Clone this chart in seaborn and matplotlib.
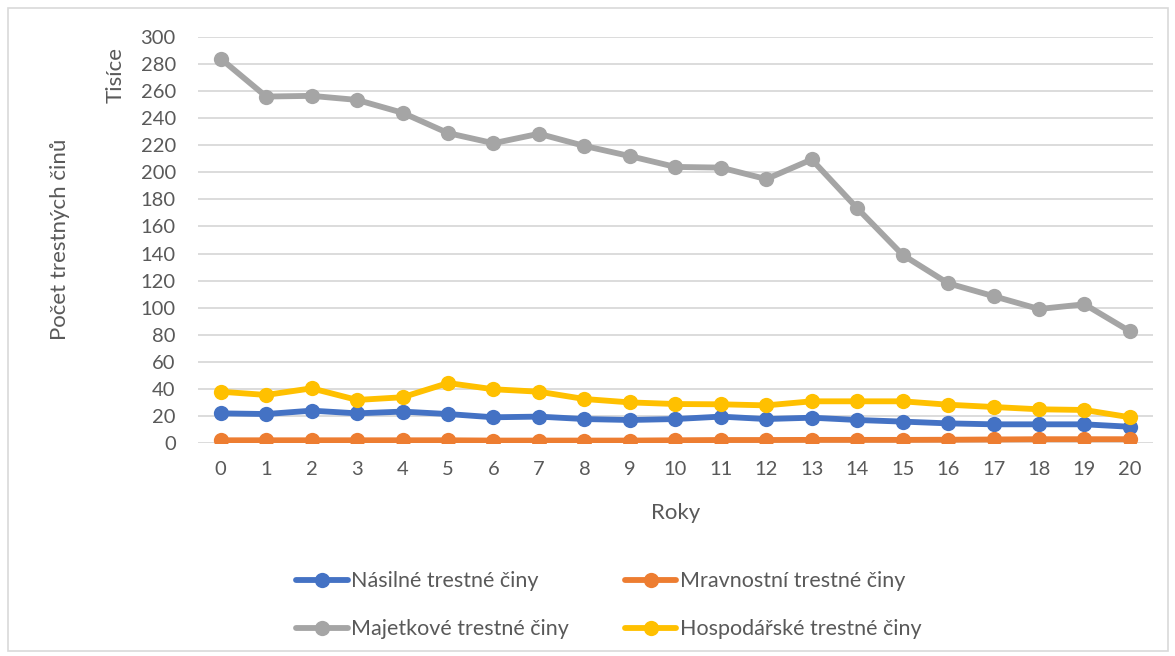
import numpy as np
import pandas as pd
import seaborn as sns
import matplotlib.pyplot as plt
from matplotlib.patches import Rectangle

# values in thousands
roky = list(range(21))
nasilne = [21.9, 21.4, 23.9, 21.9, 23.2, 21.4, 19.0, 19.5, 17.7, 17.0, 17.7,
           19.5, 17.7, 18.7, 17.0, 15.8, 14.5, 13.8, 13.8, 13.8, 12.0]
mravnostni = [2.0, 2.0, 2.0, 2.0, 2.0, 2.0, 1.8, 1.8, 1.8, 1.8, 2.0,
              2.2, 2.2, 2.3, 2.3, 2.3, 2.4, 2.6, 2.8, 2.8, 2.8]
majetkove = [284, 256, 256.5, 253.5, 244, 229, 221.5, 228.5, 219.5, 212, 204,
             203.5, 195, 209.5, 173.5, 139, 118, 108.5, 99, 102.5, 82.5]
hospodarske = [37.9, 35.5, 40.4, 31.8, 33.8, 44.3, 39.7, 37.9, 32.5, 30.0, 28.8,
               28.6, 27.8, 30.8, 30.8, 30.8, 28.3, 26.6, 24.9, 24.4, 19.0]

series = ['Násilné trestné činy', 'Mravnostní trestné činy',
          'Majetkové trestné činy', 'Hospodářské trestné činy']
colors = ['#4472C4', '#ED7D31', '#A5A5A5', '#FFC000']

df = pd.DataFrame({'Roky': roky * 4,
                   'hodnota': nasilne + mravnostni + majetkove + hospodarske,
                   'rada': np.repeat(series, len(roky))})

sns.set_theme(style='white')
plt.rcParams['font.family'] = ['Lato', 'DejaVu Sans']
text_col = '#595959'

fig = plt.figure(figsize=(11.75, 6.56), dpi=100)
ax = fig.add_axes([0.1685, 0.3247, 0.8125, 0.6189])

handles = {}
for name, col in zip(series, colors):
    sub = df[df['rada'] == name]
    sns.lineplot(data=sub, x='Roky', y='hodnota', ax=ax, color=col, linewidth=4.2,
                 marker='o', markersize=11, markeredgewidth=0, label=name, legend=False)
    handles[name] = ax.lines[-1]

ax.set_xlim(-0.5, 20.5)
ax.set_ylim(0, 300)
ax.set_xticks(roky)
ax.set_yticks(range(0, 301, 20))
ax.yaxis.grid(True, color='#D9D9D9', linewidth=1.3)
ax.set_axisbelow(True)
for s in ax.spines.values():
    s.set_visible(False)
ax.tick_params(axis='both', length=0, labelsize=14.5, labelcolor=text_col)
ax.tick_params(axis='y', pad=16)
ax.tick_params(axis='x', pad=13)
ax.set_xlabel('Roky', fontsize=16, color=text_col, labelpad=18)
ax.set_ylabel('')

fig.text(0.098, 0.885, 'Tisíce', rotation=90, ha='center', va='center',
         fontsize=16, color=text_col)
fig.text(0.051, 0.635, 'Počet trestných činů', rotation=90, ha='center', va='center',
         fontsize=16, color=text_col)

order = [series[0], series[2], series[1], series[3]]
fig.legend([handles[n] for n in order], order, ncol=2, loc='center',
           bbox_to_anchor=(0.518, 0.077), frameon=False, fontsize=15.5,
           labelcolor=text_col, handlelength=2.4, handletextpad=0.15,
           columnspacing=2.6, labelspacing=1.3)

fig.patches.append(Rectangle((0.007, 0.008), 0.987, 0.98, transform=fig.transFigure,
                             fill=False, edgecolor='#D9D9D9', linewidth=1.2))

fig.savefig('out.png', dpi=100)
